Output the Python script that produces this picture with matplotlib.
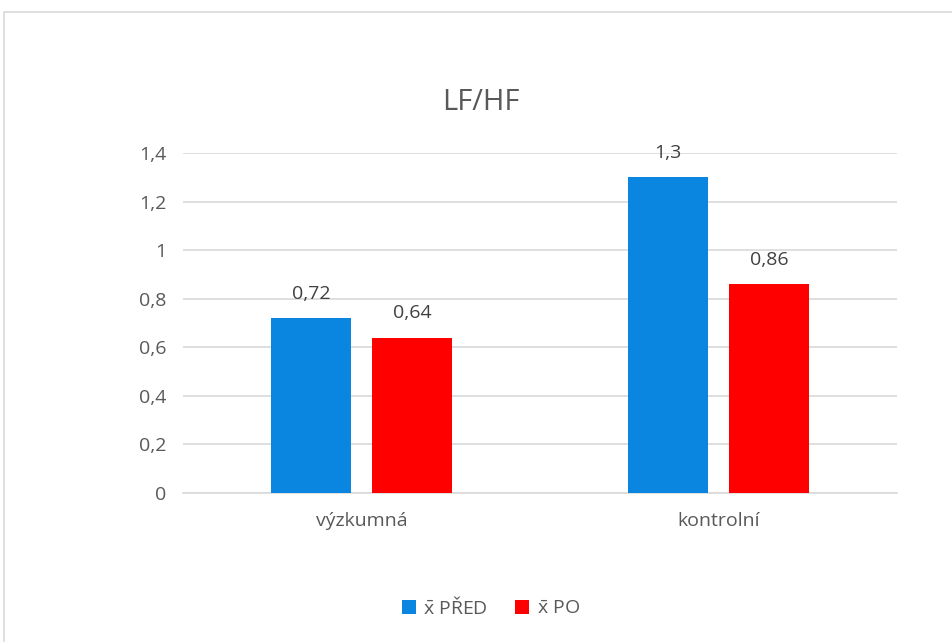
import matplotlib.pyplot as plt
import matplotlib.patches as patches
import numpy as np

categories = ['výzkumná', 'kontrolní']
pred = [0.72, 1.3]
po = [0.64, 0.86]
pred_labels = ['0,72', '1,3']
po_labels = ['0,64', '0,86']
yticks = [0, 0.2, 0.4, 0.6, 0.8, 1.0, 1.2, 1.4]
ytick_labels = ['0', '0,2', '0,4', '0,6', '0,8', '1', '1,2', '1,4']

plt.rcParams['font.family'] = ['Open Sans', 'DejaVu Sans']
plt.rcParams['mathtext.fontset'] = 'custom'
plt.rcParams['mathtext.rm'] = 'Open Sans'
plt.rcParams['mathtext.it'] = 'Open Sans'
txt = '#595959'

W, H = 953, 642
fig = plt.figure(figsize=(W / 100, H / 100), dpi=100)
# frame around chart area
fig.patches.append(patches.Rectangle((4 / W, -0.1), 1.2, 1 - 12 / H + 0.1,
                                     transform=fig.transFigure, fill=False,
                                     edgecolor='#d9d9d9', linewidth=1.2))

ax = fig.add_axes([183 / W, 1 - 493 / H, (897 - 183) / W, (493 - 153) / H])
x = np.arange(len(categories))
w = 0.224
off = 0.1415
b1 = ax.bar(x - off, pred, w, color='#0a86e0', label=r'$\mathrm{\bar{x}}$ PŘED', zorder=3)
b2 = ax.bar(x + off, po, w, color='#ff0000', label=r'$\mathrm{\bar{x}}$ PO', zorder=3)

for bars, labs in ((b1, pred_labels), (b2, po_labels)):
    for b, l in zip(bars, labs):
        ax.annotate(l, (b.get_x() + b.get_width() / 2, b.get_height()),
                    xytext=(0, 11), textcoords='offset points',
                    ha='center', va='bottom', fontsize=14, color='#404040')

ax.set_xlim(-0.5, 1.5)
ax.set_ylim(0, 1.4)
ax.set_yticks(yticks)
ax.set_yticklabels(ytick_labels, fontsize=14, color=txt)
ax.set_xticks(x)
ax.set_xticklabels(categories, fontsize=14, color=txt)
ax.tick_params(length=0, pad=12)
ax.tick_params(axis='x', pad=14)
ax.yaxis.grid(True, color='#d9d9d9', linewidth=1.2, zorder=0)
for s in ['top', 'right', 'left']:
    ax.spines[s].set_visible(False)
ax.spines['bottom'].set_color('#d9d9d9')
ax.spines['bottom'].set_linewidth(1.2)

fig.text(0.505, 1 - 103 / H, 'LF/HF',
         ha='center', va='center', fontsize=21, color=txt)

fig.legend(handles=[b1, b2], loc='center', bbox_to_anchor=(0.515, 1 - 607 / H),
           ncol=2, frameon=False, fontsize=14, handlelength=0.7,
           handleheight=0.7, columnspacing=1.4, handletextpad=0.4,
           labelcolor=txt)

fig.savefig('out.png', dpi=100)
